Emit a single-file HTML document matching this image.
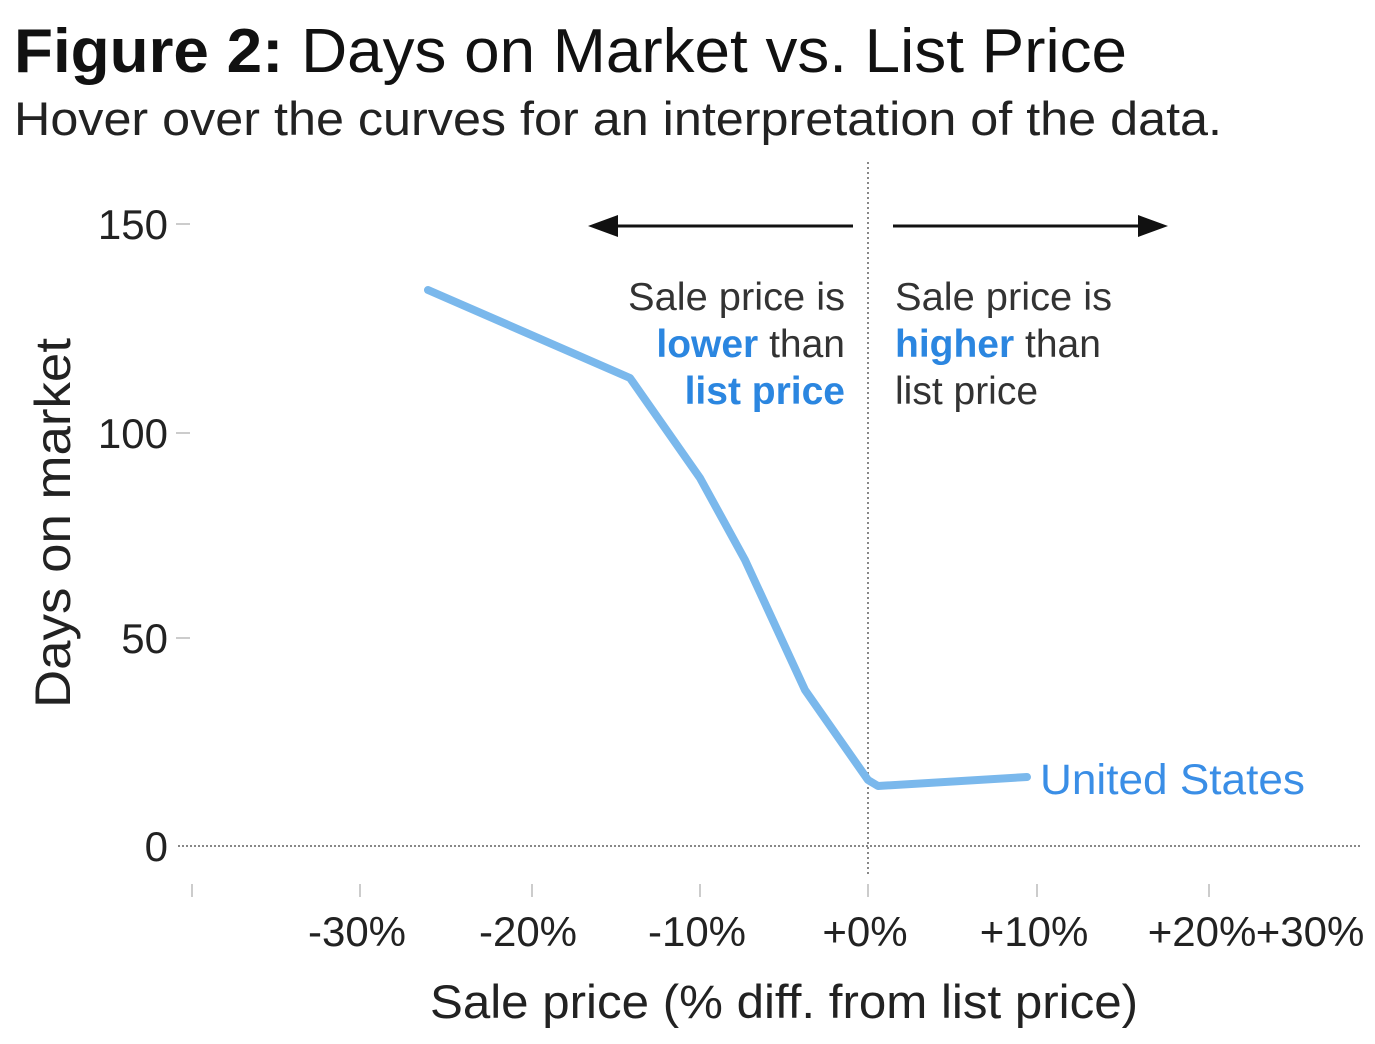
<!DOCTYPE html>
<html><head><meta charset="utf-8"><style>html,body{margin:0;padding:0;background:#fff;}svg{display:block}</style></head>
<body>
<svg width="1375" height="1044" viewBox="0 0 1375 1044" xmlns="http://www.w3.org/2000/svg" font-family="Liberation Sans, Arial, sans-serif">
<text x="14" y="72" font-size="62" fill="#111" textLength="1113" lengthAdjust="spacingAndGlyphs"><tspan font-weight="bold">Figure 2:</tspan> Days on Market vs. List Price</text>
<text x="14" y="135" font-size="47" fill="#222" textLength="1208" lengthAdjust="spacingAndGlyphs">Hover over the curves for an interpretation of the data.</text>

<!-- y axis -->
<g font-size="42" fill="#222" text-anchor="end">
<text x="168" y="239">150</text>
<text x="168" y="448">100</text>
<text x="168" y="653">50</text>
<text x="168" y="861">0</text>
</g>
<g stroke="#ccc" stroke-width="2">
<line x1="176" y1="224" x2="190" y2="224"/>
<line x1="176" y1="433" x2="190" y2="433"/>
<line x1="176" y1="638" x2="190" y2="638"/>
</g>
<text transform="translate(70,523) rotate(-90)" font-size="50" fill="#222" text-anchor="middle" textLength="370" lengthAdjust="spacingAndGlyphs">Days on market</text>

<!-- grid lines -->
<line x1="178" y1="846" x2="1360" y2="846" stroke="#888" stroke-width="2" stroke-dasharray="2,2"/>
<line x1="868" y1="162" x2="868" y2="875" stroke="#888" stroke-width="2" stroke-dasharray="2,3"/>

<!-- x ticks -->
<g stroke="#ccc" stroke-width="2">
<line x1="192" y1="884" x2="192" y2="897"/>
<line x1="360" y1="884" x2="360" y2="897"/>
<line x1="532" y1="884" x2="532" y2="897"/>
<line x1="700" y1="884" x2="700" y2="897"/>
<line x1="868" y1="884" x2="868" y2="897"/>
<line x1="1037" y1="884" x2="1037" y2="897"/>
<line x1="1209" y1="884" x2="1209" y2="897"/>
</g>
<g font-size="42" fill="#222" text-anchor="middle">
<text x="357" y="946">-30%</text>
<text x="528" y="946">-20%</text>
<text x="697" y="946">-10%</text>
<text x="865" y="946">+0%</text>
<text x="1034" y="946">+10%</text>
<text x="1202" y="946">+20%</text>
<text x="1310" y="946">+30%</text>
</g>
<text x="784" y="1018" font-size="47" fill="#222" text-anchor="middle" textLength="708" lengthAdjust="spacingAndGlyphs">Sale price (% diff. from list price)</text>

<!-- arrows -->
<line x1="853" y1="226" x2="608" y2="226" stroke="#111" stroke-width="3"/>
<polygon points="588,226 618,215 618,237" fill="#111"/>
<line x1="893" y1="226" x2="1148" y2="226" stroke="#111" stroke-width="3"/>
<polygon points="1168,226 1138,215 1138,237" fill="#111"/>

<!-- annotations -->
<g font-size="39" text-anchor="end" fill="#333">
<text x="845" y="310" textLength="217" lengthAdjust="spacingAndGlyphs">Sale price is</text>
<text x="845" y="357"><tspan fill="#2b86e0" font-weight="bold">lower</tspan> than</text>
<text x="845" y="404" fill="#2b86e0" font-weight="bold">list price</text>
</g>
<g font-size="39" fill="#333">
<text x="895" y="310" textLength="217" lengthAdjust="spacingAndGlyphs">Sale price is</text>
<text x="895" y="357"><tspan fill="#2b86e0" font-weight="bold">higher</tspan> than</text>
<text x="895" y="404">list price</text>
</g>

<!-- series -->
<polyline points="428,290 630,378 700,478 745,560 805,690 868,780 878,786 1027,777" fill="none" stroke="#7ab8ec" stroke-width="8" stroke-linejoin="round" stroke-linecap="round"/>
<text x="1040" y="794" font-size="43" fill="#3a8ee6" textLength="265" lengthAdjust="spacingAndGlyphs">United States</text>
</svg>
</body></html>
